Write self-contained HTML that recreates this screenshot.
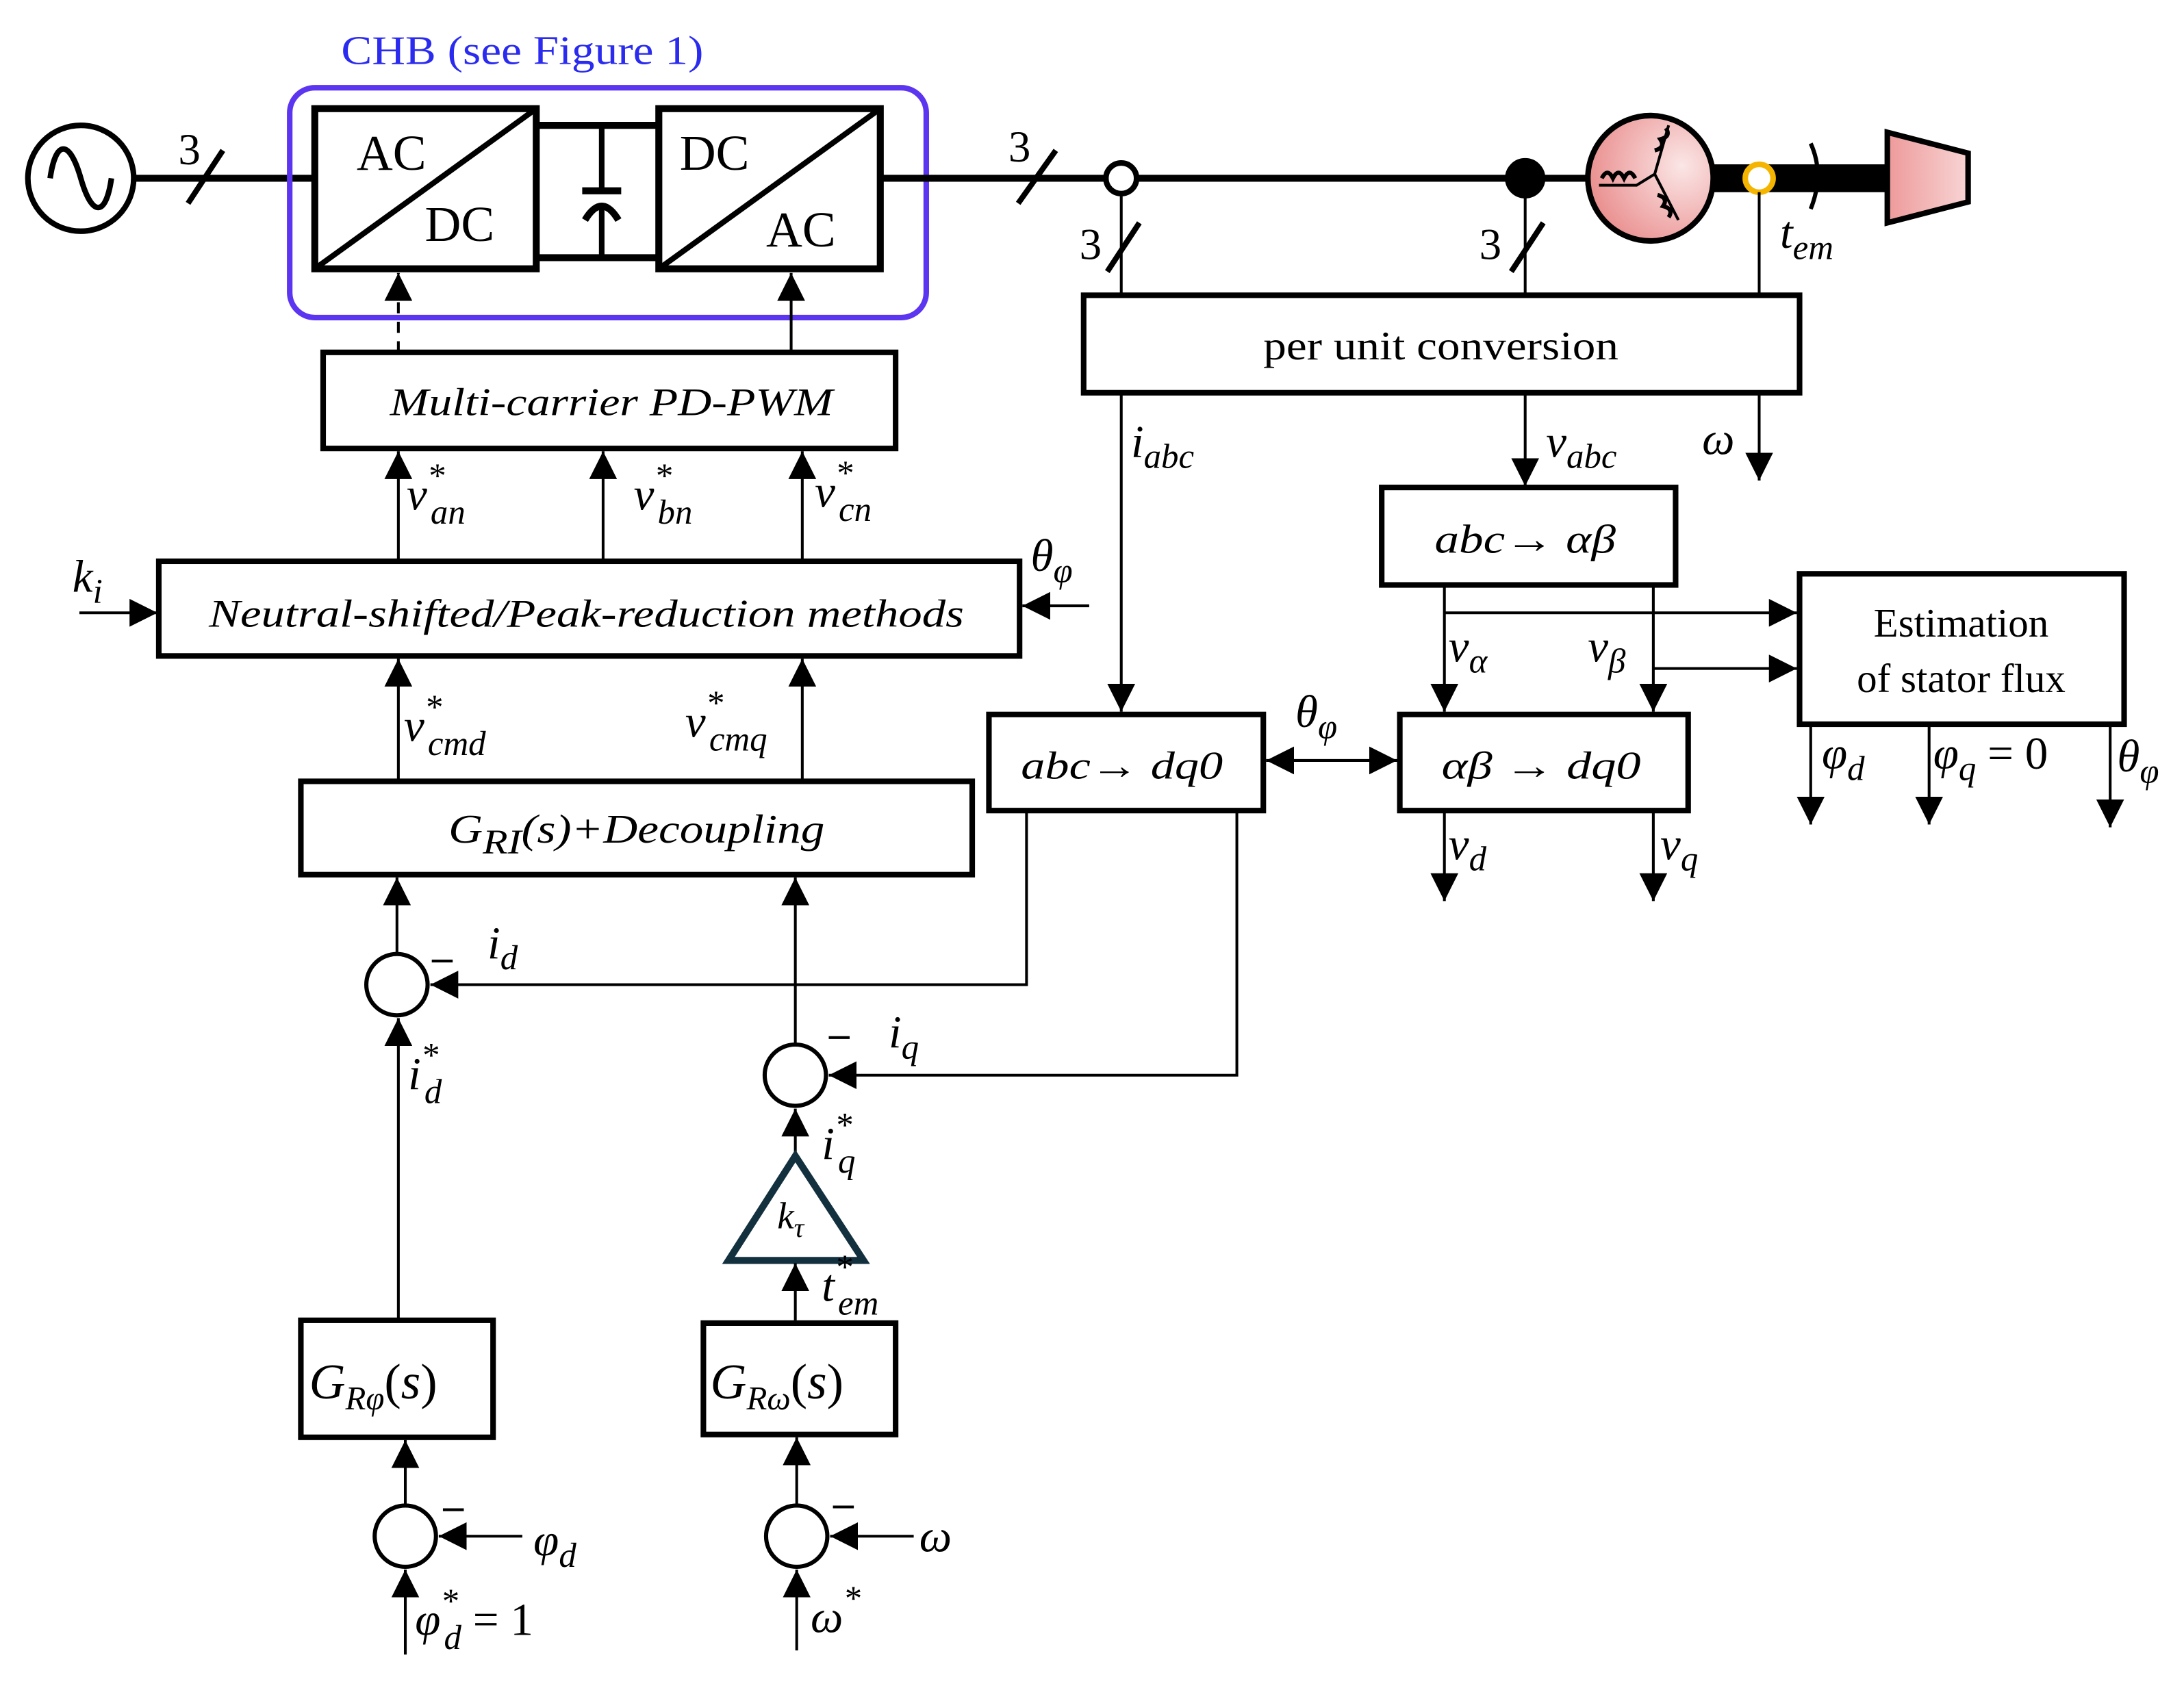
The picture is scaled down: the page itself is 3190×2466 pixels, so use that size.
<!DOCTYPE html>
<html><head><meta charset="utf-8"><style>
html,body{margin:0;padding:0;background:#fff;}
svg{display:block}
text{font-family:"Liberation Serif","DejaVu Serif",serif;fill:#000}
.m{font-style:italic;font-size:33px}
.s{font-size:25px}
</style></head><body>
<svg width="3190" height="2466" viewBox="0 0 1568 1212" preserveAspectRatio="none" xmlns="http://www.w3.org/2000/svg">
<defs>
<marker id="a" viewBox="0 0 10 10" refX="10" refY="5" markerWidth="20" markerHeight="20" markerUnits="userSpaceOnUse" orient="auto"><path d="M0,0L10,5L0,10z" fill="#000"/></marker>
<marker id="a2" viewBox="0 0 10 10" refX="0" refY="5" markerWidth="20" markerHeight="20" markerUnits="userSpaceOnUse" orient="auto"><path d="M10,0L0,5L10,10z" fill="#000"/></marker>
<radialGradient id="pk" cx="0.75" cy="0.4" r="0.8"><stop offset="0" stop-color="#fbe6e6"/><stop offset="1" stop-color="#e98a8a"/></radialGradient>
<linearGradient id="pk2" x1="0" x2="1"><stop offset="0" stop-color="#ee9a9a"/><stop offset="1" stop-color="#f8d4d4"/></linearGradient>
</defs>
<g fill="none" stroke="#000">
<circle cx="58" cy="128" r="38" stroke-width="4"/>
<path d="M36,128 C40,100 50,100 58,128 C66,156 76,156 80,128" stroke-width="4"/>
<line x1="96" y1="128" x2="228" y2="128" stroke-width="5"/>
<line x1="135" y1="146" x2="160" y2="108" stroke-width="4"/>
<rect x="208" y="63" width="457" height="165" rx="18" stroke="#5b35f0" stroke-width="4"/>
<rect x="226" y="78" width="159" height="115" stroke-width="5"/>
<line x1="226" y1="193" x2="385" y2="78" stroke-width="4"/>
<rect x="473" y="78" width="159" height="115" stroke-width="5"/>
<line x1="473" y1="193" x2="632" y2="78" stroke-width="4"/>
<line x1="385" y1="90" x2="473" y2="90" stroke-width="5"/>
<line x1="385" y1="185" x2="473" y2="185" stroke-width="5"/>
<line x1="432" y1="90" x2="432" y2="137" stroke-width="4"/>
<line x1="418" y1="137" x2="446" y2="137" stroke-width="5"/>
<path d="M420,158 Q432,138 444,158" stroke-width="5"/>
<line x1="432" y1="148" x2="432" y2="185" stroke-width="4"/>
<line x1="632" y1="128" x2="1142" y2="128" stroke-width="5"/>
<line x1="731" y1="146" x2="758" y2="108" stroke-width="4"/>
<circle cx="805" cy="128" r="11" fill="#fff" stroke-width="4"/>
<circle cx="1095" cy="128" r="14" fill="#000" stroke-width="1"/>
<rect x="1225" y="118" width="132" height="20" fill="#000" stroke="none"/>
<circle cx="1185" cy="128" r="45" fill="url(#pk)" stroke-width="4"/>
<path d="M1148,133 L1175,133 L1188,125 L1198,90 M1188,125 L1205,158" stroke-width="2"/>
<path d="M1150,128 q4,-8 8,0 q4,-8 8,0 q4,-8 8,0" stroke-width="3"/>
<path d="M1188,108 q8,-2 4,-8 q8,-2 4,-8" stroke-width="3"/>
<path d="M1190,140 q8,2 4,8 q8,2 4,8" stroke-width="3"/>
<circle cx="1263" cy="128" r="10" fill="#fff" stroke="#f4b400" stroke-width="4"/>
<path d="M1300,103 Q1310,125 1300,150" stroke-width="3"/>
<path d="M1355,95 L1413,110 L1413,145 L1355,160 Z" fill="url(#pk2)" stroke-width="4"/>
<line x1="805" y1="139" x2="805" y2="212" stroke-width="2"/>
<line x1="795" y1="195" x2="818" y2="160" stroke-width="4"/>
<line x1="1095" y1="142" x2="1095" y2="212" stroke-width="2"/>
<line x1="1085" y1="195" x2="1108" y2="160" stroke-width="4"/>
<line x1="1263" y1="138" x2="1263" y2="212" stroke-width="2"/>
<rect x="778" y="212" width="514" height="70" stroke-width="4"/>
<line x1="805" y1="282" x2="805" y2="511" stroke-width="2" marker-end="url(#a)"/>
<line x1="1095" y1="282" x2="1095" y2="349" stroke-width="2" marker-end="url(#a)"/>
<line x1="1263" y1="282" x2="1263" y2="345" stroke-width="2" marker-end="url(#a)"/>
<rect x="992" y="350" width="211" height="70" stroke-width="4"/>
<line x1="1037" y1="420" x2="1037" y2="511" stroke-width="2" marker-end="url(#a)"/>
<line x1="1187" y1="420" x2="1187" y2="511" stroke-width="2" marker-end="url(#a)"/>
<line x1="1037" y1="440" x2="1290" y2="440" stroke-width="2" marker-end="url(#a)"/>
<line x1="1187" y1="480" x2="1290" y2="480" stroke-width="2" marker-end="url(#a)"/>
<rect x="1292" y="412" width="233" height="108" stroke-width="4"/>
<line x1="1300" y1="520" x2="1300" y2="592" stroke-width="2" marker-end="url(#a)"/>
<line x1="1385" y1="520" x2="1385" y2="592" stroke-width="2" marker-end="url(#a)"/>
<line x1="1515" y1="520" x2="1515" y2="594" stroke-width="2" marker-end="url(#a)"/>
<rect x="1005" y="513" width="207" height="69" stroke-width="4"/>
<rect x="710" y="513" width="197" height="69" stroke-width="4"/>
<line x1="909" y1="546" x2="1003" y2="546" stroke-width="2" marker-start="url(#a2)" marker-end="url(#a)"/>
<line x1="1037" y1="582" x2="1037" y2="647" stroke-width="2" marker-end="url(#a)"/>
<line x1="1187" y1="582" x2="1187" y2="647" stroke-width="2" marker-end="url(#a)"/>
<polyline points="737,582 737,707 309,707" stroke-width="2" marker-end="url(#a)"/>
<polyline points="888,582 888,772 595,772" stroke-width="2" marker-end="url(#a)"/>
<rect x="232" y="253" width="411" height="69" stroke-width="4"/>
<line x1="286" y1="253" x2="286" y2="196" stroke-width="2" stroke-dasharray="8,6" marker-end="url(#a)"/>
<line x1="568" y1="253" x2="568" y2="196" stroke-width="2" marker-end="url(#a)"/>
<rect x="114" y="403" width="618" height="68" stroke-width="4"/>
<line x1="286" y1="403" x2="286" y2="324" stroke-width="2" marker-end="url(#a)"/>
<line x1="433" y1="403" x2="433" y2="324" stroke-width="2" marker-end="url(#a)"/>
<line x1="576" y1="403" x2="576" y2="324" stroke-width="2" marker-end="url(#a)"/>
<line x1="57" y1="440" x2="113" y2="440" stroke-width="2" marker-end="url(#a)"/>
<line x1="782" y1="435" x2="734" y2="435" stroke-width="2" marker-end="url(#a)"/>
<rect x="216" y="561" width="482" height="67" stroke-width="4"/>
<line x1="286" y1="561" x2="286" y2="473" stroke-width="2" marker-end="url(#a)"/>
<line x1="576" y1="561" x2="576" y2="473" stroke-width="2" marker-end="url(#a)"/>
<circle cx="285" cy="707" r="22" stroke-width="3"/>
<line x1="285" y1="685" x2="285" y2="630" stroke-width="2" marker-end="url(#a)"/>
<circle cx="571" cy="772" r="22" stroke-width="3"/>
<line x1="571" y1="750" x2="571" y2="630" stroke-width="2" marker-end="url(#a)"/>
<line x1="286" y1="948" x2="286" y2="731" stroke-width="2" marker-end="url(#a)"/>
<line x1="571" y1="830" x2="571" y2="796" stroke-width="2" marker-end="url(#a)"/>
<path d="M571,830 L620,905 L523,905 Z" stroke="#13303f" stroke-width="5"/>
<line x1="571" y1="948" x2="571" y2="907" stroke-width="2" marker-end="url(#a)"/>
<rect x="216" y="948" width="138" height="84" stroke-width="4"/>
<rect x="505" y="950" width="138" height="80" stroke-width="4"/>
<circle cx="291" cy="1103" r="22" stroke-width="3"/>
<line x1="291" y1="1081" x2="291" y2="1034" stroke-width="2" marker-end="url(#a)"/>
<line x1="375" y1="1103" x2="315" y2="1103" stroke-width="2" marker-end="url(#a)"/>
<line x1="291" y1="1188" x2="291" y2="1127" stroke-width="2" marker-end="url(#a)"/>
<circle cx="572" cy="1103" r="22" stroke-width="3"/>
<line x1="572" y1="1081" x2="572" y2="1032" stroke-width="2" marker-end="url(#a)"/>
<line x1="656" y1="1103" x2="596" y2="1103" stroke-width="2" marker-end="url(#a)"/>
<line x1="572" y1="1185" x2="572" y2="1127" stroke-width="2" marker-end="url(#a)"/>
<line x1="310" y1="690" x2="325" y2="690" stroke-width="2"/>
<line x1="595" y1="745" x2="610" y2="745" stroke-width="2"/>
<line x1="318" y1="1084" x2="333" y2="1084" stroke-width="2"/>
<line x1="598" y1="1082" x2="613" y2="1082" stroke-width="2"/>
</g>
<text x="245" y="46" font-size="29" textLength="260" lengthAdjust="spacingAndGlyphs" style="fill:#2b2bf0">CHB (see Figure 1)</text>
<text x="128" y="118" font-size="32">3</text>
<text x="256" y="122" font-size="36">AC</text>
<text x="305" y="173" font-size="36">DC</text>
<text x="488" y="122" font-size="36">DC</text>
<text x="550" y="177" font-size="36">AC</text>
<text x="724" y="116" font-size="32">3</text>
<text x="775" y="186" font-size="32">3</text>
<text x="1062" y="186" font-size="32">3</text>
<text class="m" x="1278" y="178">t<tspan class="s" dy="8">em</tspan></text>
<text x="907" y="258" font-size="29" textLength="255" lengthAdjust="spacingAndGlyphs">per unit conversion</text>
<text class="m" x="812" y="328">i<tspan class="s" dy="8">abc</tspan></text>
<text class="m" x="1110" y="328">v<tspan class="s" dy="8">abc</tspan></text>
<text class="m" x="1222" y="326">ω</text>
<text class="m" x="1030" y="397" style="font-size:29px" textLength="130" lengthAdjust="spacingAndGlyphs">abc→ αβ</text>
<text x="1408" y="457" font-size="29" text-anchor="middle">Estimation</text>
<text x="1408" y="497" font-size="29" text-anchor="middle">of stator flux</text>
<text class="m" x="1040" y="475">v<tspan class="s" dy="8">α</tspan></text>
<text class="m" x="1140" y="475">v<tspan class="s" dy="8">β</tspan></text>
<text class="m" x="1308" y="552">φ<tspan class="s" dy="8">d</tspan></text>
<text class="m" x="1388" y="552">φ<tspan class="s" dy="8">q</tspan><tspan dy="-8" style="font-style:normal"> = 0</tspan></text>
<text class="m" x="1520" y="554">θ<tspan class="s" dy="8">φ</tspan></text>
<text class="m" x="1035" y="559" style="font-size:28px" textLength="143" lengthAdjust="spacingAndGlyphs">αβ → dq0</text>
<text class="m" x="733" y="559" style="font-size:28px" textLength="145" lengthAdjust="spacingAndGlyphs">abc→ dq0</text>
<text class="m" x="930" y="522">θ<tspan class="s" dy="8">φ</tspan></text>
<text class="m" x="1040" y="617">v<tspan class="s" dy="8">d</tspan></text>
<text class="m" x="1192" y="617">v<tspan class="s" dy="8">q</tspan></text>
<text class="m" x="280" y="298" style="font-size:28px" textLength="318" lengthAdjust="spacingAndGlyphs">Multi-carrier PD-PWM</text>
<text class="m" x="292" y="366">v<tspan class="s" dy="-16">*</tspan><tspan class="s" dx="-10" dy="26">an</tspan></text>
<text class="m" x="455" y="366">v<tspan class="s" dy="-16">*</tspan><tspan class="s" dx="-10" dy="26">bn</tspan></text>
<text class="m" x="585" y="364">v<tspan class="s" dy="-16">*</tspan><tspan class="s" dx="-10" dy="26">cn</tspan></text>
<text class="m" x="52" y="425">k<tspan class="s" dy="8">i</tspan></text>
<text class="m" x="740" y="410">θ<tspan class="s" dy="8">φ</tspan></text>
<text class="m" x="150" y="450" style="font-size:28px" textLength="542" lengthAdjust="spacingAndGlyphs">Neutral-shifted/Peak-reduction methods</text>
<text class="m" x="290" y="532">v<tspan class="s" dy="-16">*</tspan><tspan class="s" dx="-10" dy="26">cmd</tspan></text>
<text class="m" x="492" y="529">v<tspan class="s" dy="-16">*</tspan><tspan class="s" dx="-10" dy="26">cmq</tspan></text>
<text class="m" x="322" y="605" style="font-size:29px" textLength="270" lengthAdjust="spacingAndGlyphs">G<tspan class="s" dy="8">RI</tspan><tspan dy="-8">(s)+Decoupling</tspan></text>
<text class="m" x="350" y="688">i<tspan class="s" dy="8">d</tspan></text>
<text class="m" x="638" y="752">i<tspan class="s" dy="8">q</tspan></text>
<text class="m" x="293" y="782">i<tspan class="s" dy="-16">*</tspan><tspan class="s" dx="-10" dy="26">d</tspan></text>
<text class="m" x="590" y="832">i<tspan class="s" dy="-16">*</tspan><tspan class="s" dx="-10" dy="26">q</tspan></text>
<text class="m" x="558" y="882" style="font-size:27px">k<tspan class="s" dy="6" style="font-size:20px">τ</tspan></text>
<text class="m" x="590" y="934">t<tspan class="s" dy="-16">*</tspan><tspan class="s" dx="-10" dy="26">em</tspan></text>
<text class="m" x="222" y="1004" style="font-size:36px">G<tspan dy="8" style="font-size:24px">Rφ</tspan><tspan dy="-8" style="font-style:normal">(</tspan>s<tspan style="font-style:normal">)</tspan></text>
<text class="m" x="510" y="1004" style="font-size:36px">G<tspan dy="8" style="font-size:24px">Rω</tspan><tspan dy="-8" style="font-style:normal">(</tspan>s<tspan style="font-style:normal">)</tspan></text>
<text class="m" x="383" y="1117">φ<tspan class="s" dy="8">d</tspan></text>
<text class="m" x="660" y="1114">ω</text>
<text class="m" x="298" y="1174">φ<tspan class="s" dy="-16">*</tspan><tspan class="s" dx="-10" dy="26">d</tspan><tspan dy="-10" style="font-style:normal"> = 1</tspan></text>
<text class="m" x="582" y="1172">ω<tspan class="s" dy="-16">*</tspan></text>
</svg>
</body></html>
